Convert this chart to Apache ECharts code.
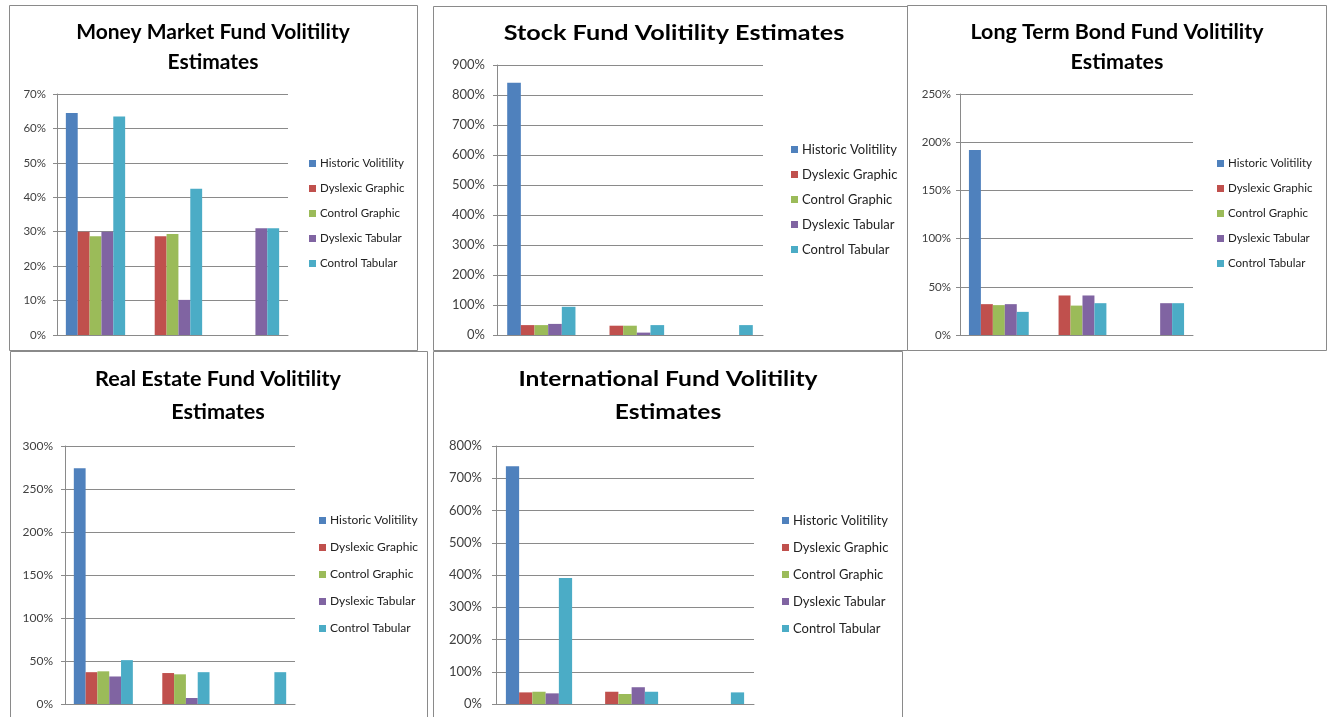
<!DOCTYPE html>
<html lang="en">
<head>
    <meta charset="UTF-8">
    <title>Fund Volitility Estimates</title>
    <style>
        html, body { margin: 0; padding: 0; background: #fff; }
    </style>
</head>
<body>
<div id="main" style="width: 1330px;height:717px;"></div>
<script type="text/javascript" src="https://cdn.jsdelivr.net/npm/echarts@6/dist/echarts.min.js"></script>
<script type="text/javascript">

    // legend names and colours (Office 2007 palette)
    var seriesNames = ['Historic Volitility', 'Dyslexic Graphic', 'Control Graphic', 'Dyslexic Tabular', 'Control Tabular'];
    var colors = ['#4F81BD', '#C0504D', '#9BBB59', '#8064A2', '#4BACC6'];
    var categories = ['1', '2', '3'];

    // values in %, one row per series, one column per category group
    var moneyMarket = [
        [64.5, null, null],
        [30, 28.7, null],
        [28.7, 29.3, null],
        [30, 10.2, 31],
        [63.5, 42.5, 31]
    ];
    var stockFund = [
        [841, null, null],
        [33, 31, null],
        [33, 31, null],
        [37, 8, null],
        [94, 33, 33]
    ];
    var longTermBond = [
        [192, null, null],
        [32, 41, null],
        [31, 30.5, null],
        [32, 41, 33],
        [24, 33, 33]
    ];
    var realEstate = [
        [274, null, null],
        [37, 36, null],
        [38, 34.5, null],
        [32, 7, null],
        [51, 37, 37]
    ];
    var international = [
        [737, null, null],
        [36, 38, null],
        [38, 31, null],
        [33, 52, null],
        [391, 38, 36]
    ];

    // panel layout: frame, plot area, title, legend
    // the two wide panels were stretched sideways in the original, hence stretch
    var panels = [
        {title: 'Money Market Fund Volitility\nEstimates', data: moneyMarket, max: 70, step: 10,
            frame: [9, 5, 408, 345], grid: [57, 94, 231, 241], titleX: 213, titleY: 17, lineH: 30, stretch: 1,
            legendX: 309, legendY: 157, legendGap: 12, font: 11.5, axisFont: 11.5, margin: 11},
        {title: 'Stock Fund Volitility Estimates', data: stockFund, max: 900, step: 100,
            frame: [433, 6, 474, 344], grid: [497, 65, 266, 270], titleX: 674, titleY: 18, lineH: 30, stretch: 1.2,
            legendX: 791, legendY: 143, legendGap: 12, font: 13, axisFont: 13, margin: 12},
        {title: 'Long Term Bond Fund Volitility\nEstimates', data: longTermBond, max: 250, step: 50,
            frame: [907, 5, 419, 345], grid: [960, 94, 233, 241], titleX: 1117, titleY: 17, lineH: 30, stretch: 1.02,
            legendX: 1217, legendY: 157, legendGap: 12, font: 11.5, axisFont: 11.5, margin: 9},
        {title: 'Real Estate Fund Volitility\nEstimates', data: realEstate, max: 300, step: 50,
            frame: [10, 351, 417, 380], grid: [65, 446, 230, 258], titleX: 218, titleY: 363, lineH: 33, stretch: 1.03,
            legendX: 319, legendY: 514, legendGap: 14, font: 12, axisFont: 12, margin: 12},
        {title: 'International Fund Volitility\nEstimates', data: international, max: 800, step: 100,
            frame: [433, 351, 469, 380], grid: [496, 446, 258, 258], titleX: 668, titleY: 363, lineH: 33, stretch: 1.17,
            legendX: 782, legendY: 514, legendGap: 14, font: 13, axisFont: 13, margin: 14}
    ];

    var myChart = echarts.init(document.getElementById('main'));

    var option = {
        animation: false,
        color: colors,
        textStyle: {fontFamily: 'Lato'},
        legend: [], grid: [], xAxis: [], yAxis: [], series: [],
        graphic: []
    };

    panels.forEach(function (p, i) {
        option.graphic.push({
            type: 'rect', z: -1,
            shape: {x: p.frame[0] + 0.5, y: p.frame[1] + 0.5, width: p.frame[2], height: p.frame[3]},
            style: {fill: '#fff', stroke: '#8a8a8a', lineWidth: 1}
        });
        // title as graphic text so it can be stretched like the source image
        option.graphic.push({
            type: 'text', x: p.titleX, y: p.titleY, scaleX: p.stretch,
            style: {
                text: p.title, fill: '#000', font: 'bold 21px Lato',
                textAlign: 'center', textVerticalAlign: 'top', lineHeight: p.lineH
            }
        });
        option.legend.push({
            orient: 'vertical', left: p.legendX, top: p.legendY,
            itemWidth: 7, itemHeight: 7, itemGap: p.legendGap, icon: 'rect',
            data: seriesNames,
            textStyle: {fontSize: p.font, lineHeight: 13, color: '#222', padding: [0, 0, 0, -1]},
            selectedMode: false, padding: 0
        });
        option.grid.push({left: p.grid[0], top: p.grid[1], width: p.grid[2], height: p.grid[3]});
        option.xAxis.push({
            type: 'category', gridIndex: i, data: categories,
            axisLine: {lineStyle: {color: '#8a8a8a'}},
            axisTick: {show: false}, axisLabel: {show: false}
        });
        option.yAxis.push({
            type: 'value', gridIndex: i, min: 0, max: p.max, interval: p.step,
            axisLine: {show: true, lineStyle: {color: '#8a8a8a'}},
            axisTick: {show: true, length: 4, lineStyle: {color: '#8a8a8a'}},
            splitLine: {lineStyle: {color: '#8a8a8a'}},
            axisLabel: {formatter: '{value}%', fontSize: p.axisFont, color: '#404040', margin: p.margin}
        });
        p.data.forEach(function (vals, k) {
            option.series.push({
                name: seriesNames[k], type: 'bar', xAxisIndex: i, yAxisIndex: i,
                data: vals, barGap: '0%', barCategoryGap: '23%',
                itemStyle: {color: colors[k]}
            });
        });
    });

    myChart.setOption(option);
</script>
</body>
</html>
